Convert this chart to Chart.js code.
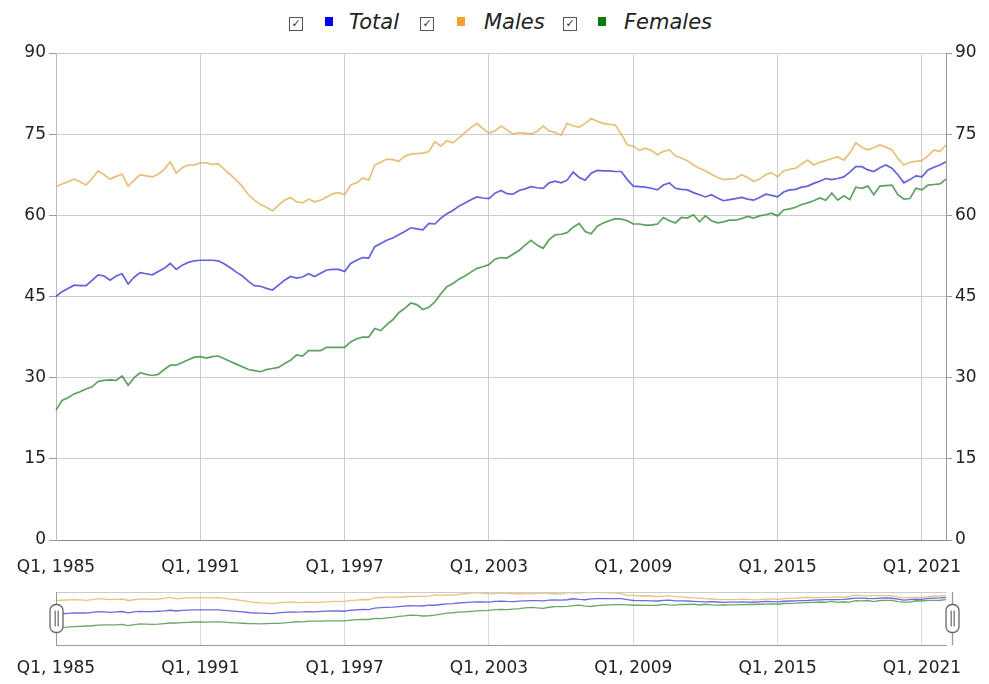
<!DOCTYPE html>
<html>
<head>
<meta charset="utf-8">
<script src="https://cdn.jsdelivr.net/npm/chart.js@4.4.1/dist/chart.umd.min.js"></script>
<style>
  body { margin: 0; background: #fff; width: 989px; height: 684px; overflow: hidden; position: relative; font-family: "DejaVu Sans", sans-serif; }
  .lg { position: absolute; }
  .cb { top: 17px; width: 12px; height: 12px; border: 1px solid #555; font-size: 11px; line-height: 12px; text-align: center; color: #333; }
  .sw { top: 17px; width: 8px; height: 9px; }
  .lt { top: 9px; font-size: 21px; line-height: 26px; font-style: italic; color: #222; white-space: nowrap; }
  #mainChart { position: absolute; left: 0; top: 0; }
  #navChart { position: absolute; left: 0; top: 585px; }
</style>
</head>
<body>
<span class="lg cb" style="left:289px">✓</span>
<span class="lg sw" style="left:325px;background:#0000ee"></span>
<span class="lg lt" style="left:349px">Total</span>
<span class="lg cb" style="left:420px">✓</span>
<span class="lg sw" style="left:457px;background:#f0a030"></span>
<span class="lg lt" style="left:484px">Males</span>
<span class="lg cb" style="left:563px">✓</span>
<span class="lg sw" style="left:598px;background:#0a7a0a"></span>
<span class="lg lt" style="left:624px">Females</span>
<canvas id="mainChart" width="989" height="585"></canvas>
<canvas id="navChart" width="989" height="99"></canvas>
<script>
const firstYear = 1985;
const lastYear = 2022;
const yTicks = [0, 15, 30, 45, 60, 75, 90];

// quarterly values, Q1 1985 .. Q1 2022
const total = [
  45.0, 45.9, 46.5, 47.1,  47.0, 47.0, 48.0, 49.0,  48.8, 48.0, 48.8, 49.2,
  47.3, 48.6, 49.4, 49.2,  49.0, 49.6, 50.2, 51.1,  50.0, 50.8, 51.3, 51.6,
  51.7, 51.7, 51.7, 51.6,  51.0, 50.3, 49.5, 48.8,  47.8, 47.0, 46.9, 46.5,
  46.2, 47.1, 48.0, 48.7,  48.4, 48.6, 49.2, 48.7,  49.3, 49.9, 50.0, 50.0,
  49.6, 51.1, 51.7, 52.2,  52.1, 54.2, 54.8, 55.4,  55.8, 56.4, 57.0, 57.7,
  57.5, 57.3, 58.5, 58.4,  59.5, 60.3, 60.9, 61.7,  62.3, 62.9, 63.4, 63.2,
  63.1, 64.1, 64.6, 64.0,  63.9, 64.6, 64.9, 65.3,  65.1, 65.0, 66.0, 66.3,
  66.0, 66.5, 68.0, 67.0,  66.5, 67.8, 68.3, 68.2,  68.2, 68.1, 68.1, 66.6,
  65.4, 65.3, 65.2, 65.0,  64.7, 65.6, 66.0, 65.0,  64.8, 64.7, 64.2, 63.8,
  63.4, 63.8, 63.2, 62.7,  62.9, 63.1, 63.3, 63.0,  62.8, 63.3, 63.9, 63.7,
  63.4, 64.3, 64.7, 64.8,  65.2, 65.4, 65.9, 66.3,  66.8, 66.6, 66.8, 67.1,
  68.0, 69.0, 69.0, 68.4,  68.1, 68.8, 69.3, 68.7,  67.5, 66.0, 66.6, 67.3,
  67.1, 68.4, 68.9, 69.3,  69.9
];
const males = [
  65.3, 65.8, 66.2, 66.7,  66.2, 65.6, 66.8, 68.2,  67.5, 66.7, 67.2, 67.6,
  65.4, 66.5, 67.5, 67.3,  67.1, 67.6, 68.5, 69.9,  67.8, 68.8, 69.3, 69.3,
  69.7, 69.7, 69.4, 69.5,  68.5, 67.5, 66.5, 65.3,  63.8, 62.8, 62.0, 61.5,
  60.8, 61.9, 62.8, 63.3,  62.5, 62.3, 63.0, 62.5,  62.8, 63.4, 64.0, 64.2,
  63.8, 65.6, 66.0, 66.9,  66.5, 69.3, 69.8, 70.4,  70.3, 70.0, 70.9, 71.3,
  71.4, 71.5, 71.8, 73.6,  72.8, 73.8, 73.4, 74.3,  75.3, 76.2, 77.0, 76.0,
  75.2, 75.6, 76.5, 75.8,  75.0, 75.3, 75.2, 75.0,  75.5, 76.5, 75.6, 75.3,
  74.8, 77.0, 76.5, 76.3,  77.0, 77.9, 77.4, 77.0,  76.8, 76.7, 75.0, 73.0,
  72.8, 72.0, 72.4, 72.0,  71.2, 71.8, 72.1, 71.0,  70.6, 70.1, 69.3, 68.7,
  68.2, 67.6, 67.0, 66.6,  66.7, 66.8, 67.5, 67.0,  66.3, 66.7, 67.5, 67.9,
  67.1, 68.2, 68.5, 68.7,  69.5, 70.2, 69.3, 69.8,  70.1, 70.5, 70.8, 70.2,
  71.5, 73.4, 72.6, 72.1,  72.5, 73.0, 72.6, 72.1,  70.5, 69.3, 69.8, 70.0,
  70.1, 71.0, 72.1, 71.8,  73.0
];
const females = [
  24.0, 25.8, 26.3, 27.0,  27.4, 27.9, 28.3, 29.3,  29.5, 29.6, 29.5, 30.3,
  28.6, 30.0, 30.9, 30.6,  30.4, 30.6, 31.5, 32.3,  32.3, 32.8, 33.3, 33.8,
  33.9, 33.6, 33.9, 34.0,  33.5, 33.0, 32.5, 32.0,  31.5, 31.3, 31.1, 31.5,
  31.7, 31.9, 32.6, 33.2,  34.2, 34.0, 35.0, 35.0,  35.0, 35.6, 35.6, 35.6,
  35.6, 36.6, 37.2, 37.5,  37.5, 39.1, 38.7, 39.8,  40.7, 42.0, 42.8, 43.8,
  43.5, 42.6, 43.0, 44.0,  45.5, 46.8, 47.4, 48.2,  48.8, 49.5, 50.2, 50.5,
  50.9, 51.9, 52.2, 52.1,  52.8, 53.5, 54.5, 55.4,  54.5, 53.9, 55.5, 56.4,
  56.5, 56.8, 57.8, 58.5,  57.0, 56.6, 58.0, 58.6,  59.0, 59.4, 59.3, 59.0,
  58.4, 58.4, 58.2, 58.2,  58.4, 59.6, 59.0, 58.6,  59.6, 59.5, 60.1, 58.8,
  59.9, 59.0, 58.6, 58.8,  59.1, 59.1, 59.4, 59.8,  59.5, 59.9, 60.1, 60.4,
  59.9, 61.0, 61.2, 61.5,  62.0, 62.3, 62.7, 63.2,  62.8, 64.1, 62.8, 63.6,
  62.9, 65.2, 65.0, 65.4,  63.8, 65.4, 65.5, 65.6,  63.8, 63.0, 63.1, 65.0,
  64.7, 65.6, 65.7, 65.8,  66.7
];

const labels = [];
for (let y = firstYear; y <= lastYear; y++) {
  for (let q = 1; q <= 4; q++) {
    if (labels.length < total.length) labels.push("Q" + q + ", " + y);
  }
}

const textColor = "#222";
const tickFont = { family: "DejaVu Sans", size: 17 };

// show a label every 6 years (24 quarters)
function everySixYears(value, index) {
  return index % 24 === 0 ? labels[index] : null;
}

const mainCtx = document.getElementById("mainChart").getContext("2d");

new Chart(mainCtx, {
  type: "line",
  data: {
    labels: labels,
    datasets: [
      { label: "Total", data: total, borderColor: "rgba(70,70,215,0.85)", borderWidth: 1.7 },
      { label: "Males", data: males, borderColor: "rgba(225,175,85,0.8)", borderWidth: 1.7 },
      { label: "Females", data: females, borderColor: "rgba(40,130,40,0.75)", borderWidth: 1.7 }
    ]
  },
  options: {
    responsive: false,
    animation: false,
    layout: { padding: { top: 53, left: 0, right: 0, bottom: 0 } },
    elements: { point: { radius: 0 }, line: { tension: 0 } },
    plugins: { legend: { display: false }, tooltip: { enabled: false } },
    scales: {
      x: {
        ticks: {
          autoSkip: false,
          maxRotation: 0,
          color: textColor,
          font: tickFont,
          padding: 9,
          callback: everySixYears
        },
        grid: { color: "#cccccc", tickLength: 8, tickColor: "#ffffff" },
        border: { color: "#888888" },
        afterFit: (scale) => { scale.height = 45; }
      },
      y: {
        position: "left",
        min: 0,
        max: 90,
        afterBuildTicks: (scale) => { scale.ticks = yTicks.map(v => ({ value: v })); },
        ticks: { color: textColor, font: tickFont, padding: 3 },
        grid: { color: "#cccccc", tickLength: 7, tickColor: "#999999" },
        border: { color: "#bbbbbb" },
        afterFit: (scale) => { scale.width = 56; }
      },
      y2: {
        position: "right",
        min: 0,
        max: 90,
        afterBuildTicks: (scale) => { scale.ticks = yTicks.map(v => ({ value: v })); },
        ticks: { color: textColor, font: tickFont, padding: 3 },
        grid: { drawOnChartArea: false, tickLength: 6, tickColor: "#999999" },
        border: { color: "#999999" },
        afterFit: (scale) => { scale.width = 43; }
      }
    }
  }
});

// navigator handles + top edge
const navDecor = {
  id: "navDecor",
  afterDraw(chart) {
    const { ctx, chartArea } = chart;
    ctx.save();
    ctx.strokeStyle = "#cccccc";
    ctx.lineWidth = 1;
    ctx.beginPath();
    ctx.moveTo(chartArea.left, chartArea.top + 0.5);
    ctx.lineTo(chartArea.right, chartArea.top + 0.5);
    ctx.stroke();

    const mid = (chartArea.top + chartArea.bottom) / 2;
    [chartArea.left, chartArea.right + 6].forEach((hx) => {
      ctx.strokeStyle = "#999999";
      ctx.beginPath();
      ctx.moveTo(hx + 0.5, chartArea.top);
      ctx.lineTo(hx + 0.5, chartArea.bottom);
      ctx.stroke();

      ctx.fillStyle = "#ffffff";
      ctx.strokeStyle = "#666666";
      ctx.lineWidth = 1.3;
      ctx.beginPath();
      ctx.roundRect(hx - 6, mid - 14, 13, 28, 6);
      ctx.fill();
      ctx.stroke();
      ctx.fillStyle = "#888888";
      ctx.fillRect(hx - 1.5, mid - 8, 1.5, 16);
      ctx.fillRect(hx + 1.5, mid - 8, 1.5, 16);
    });
    ctx.restore();
  }
};

const navCtx = document.getElementById("navChart").getContext("2d");
const navMax = Math.max(...total, ...males, ...females);

new Chart(navCtx, {
  type: "line",
  data: {
    labels: labels,
    datasets: [
      { data: total, borderColor: "rgba(70,70,215,0.8)", borderWidth: 1.3 },
      { data: males, borderColor: "rgba(225,175,85,0.75)", borderWidth: 1.3 },
      { data: females, borderColor: "rgba(40,130,40,0.7)", borderWidth: 1.3 }
    ]
  },
  options: {
    responsive: false,
    animation: false,
    layout: { padding: { top: 7, left: 56, right: 43, bottom: 0 } },
    elements: { point: { radius: 0 }, line: { tension: 0 } },
    plugins: { legend: { display: false }, tooltip: { enabled: false } },
    scales: {
      x: {
        ticks: {
          autoSkip: false,
          maxRotation: 0,
          color: textColor,
          font: tickFont,
          padding: 7,
          callback: everySixYears
        },
        grid: { color: "#dddddd", tickLength: 6, tickColor: "#ffffff" },
        border: { color: "#999999" },
        afterFit: (scale) => { scale.height = 39; }
      },
      y: { display: false, min: 0, max: navMax }
    }
  },
  plugins: [navDecor]
});
</script>
</body>
</html>
